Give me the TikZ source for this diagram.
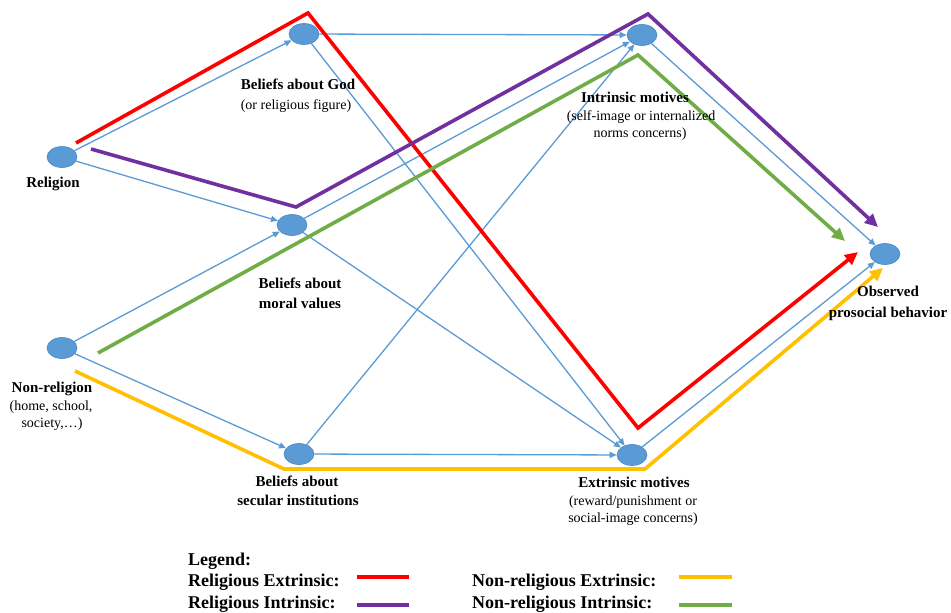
\documentclass[tikz,border=0pt]{standalone}
\usepackage{fontspec}
\setmainfont{Liberation Serif}
\usetikzlibrary{shapes.geometric,arrows.meta}
\definecolor{nodeblue}{HTML}{5B9BD5}
\definecolor{nodeedge}{HTML}{4A86C0}
\definecolor{linkblue}{HTML}{5B9BD5}
\definecolor{relred}{HTML}{FF0000}
\definecolor{relpurple}{HTML}{7030A0}
\definecolor{nrgreen}{HTML}{70AD47}
\definecolor{nryellow}{HTML}{FFC000}
\tikzset{
  dot/.style={ellipse, fill=nodeblue, draw=nodeedge, line width=0.6pt,
    minimum width=30pt, minimum height=21pt, inner sep=0pt},
  link/.style={draw=linkblue, line width=1.3pt, -{Triangle[length=7pt,width=6pt]}},
  route/.style={line width=3.6pt, line join=miter, -{Triangle[length=13pt,width=12pt]}},
  hd/.style={font=\fontsize{15}{17}\selectfont\bfseries, inner sep=0pt, anchor=base},
  sub/.style={font=\fontsize{14}{16}\selectfont, inner sep=0pt, anchor=base},
  leg/.style={font=\fontsize{18}{20}\selectfont\bfseries, inner sep=0pt, anchor=base west},
  legline/.style={line width=4pt},
}
\begin{document}
\begin{tikzpicture}[x=1pt,y=-1pt]
\path[use as bounding box, fill=white] (0,0) rectangle (951,613);

% nodes
\node[dot] (rel) at (62,157) {};
\node[dot] (god) at (304,34) {};
\node[dot] (mor) at (292,225) {};
\node[dot] (non) at (62,348) {};
\node[dot] (sec) at (299,454) {};
\node[dot] (int) at (642,35) {};
\node[dot] (ext) at (632,455) {};
\node[dot] (obs) at (885,254) {};

% blue links
\draw[link] (rel) -- (god);
\draw[link] (rel) -- (mor);
\draw[link] (god) -- (int);
\draw[link] (god) -- (ext);
\draw[link] (mor) -- (int);
\draw[link] (mor) -- (ext);
\draw[link] (non) -- (mor);
\draw[link] (non) -- (sec);
\draw[link] (sec) -- (int);
\draw[link] (sec) -- (ext);
\draw[link] (int) -- (obs);
\draw[link] (ext) -- (obs);

% route coordinates
\coordinate (r0) at (76,143);
\coordinate (r1) at (308,13);
\coordinate (r2) at (638,428);
\coordinate (r3) at (858,252);
\coordinate (p0) at (91,149);
\coordinate (p1) at (296,207);
\coordinate (p2) at (648,14);
\coordinate (p3) at (878,227);
\coordinate (g0) at (98,353);
\coordinate (g1) at (638,55);
\coordinate (g2) at (845,241);
\coordinate (y0) at (75,371);
\coordinate (y1) at (284,469);
\coordinate (y2) at (645,469);
\coordinate (y3) at (883,268);

\draw[route, relred] (r0) -- (r1) -- (r2) -- (r3);
\draw[route, relpurple] (p0) -- (p1) -- (p2) -- (p3);
\draw[route, nrgreen] (g0) -- (g1) -- (g2);
\draw[route, nryellow] (y0) -- (y1) -- (y2) -- (y3);

% labels
\node[hd] (relA) at (53,187) {Religion};
\node[hd] (godA) at (298,89) {Beliefs about God};
\node[sub] (godB) at (296,109) {(or religious figure)};
\node[hd] (intA) at (635,102) {Intrinsic motives};
\node[sub] (intB) at (641,120) {(self-image or internalized};
\node[sub] (intC) at (640,137) {norms concerns)};
\node[hd] (morA) at (300,288) {Beliefs about};
\node[hd] (morB) at (300,308) {moral values};
\node[hd] (nonA) at (52,392) {Non-religion};
\node[sub] (nonB) at (51,410) {(home, school,};
\node[sub] (nonC) at (52,427) {society,\dots)};
\node[hd] (secA) at (297,486) {Beliefs about};
\node[hd] (secB) at (298,505) {secular institutions};
\node[hd] (extA) at (634,487) {Extrinsic motives};
\node[sub] (extB) at (633,505) {(reward/punishment or};
\node[sub] (extC) at (633,522) {social-image concerns)};
\node[hd] (obsA) at (888,296) {Observed};
\node[hd] (obsB) at (888,317) {prosocial behavior};

% legend
\node[leg] (legT) at (188,565) {Legend:};
\node[leg] (legRE) at (188,586) {Religious Extrinsic:};
\node[leg] (legRI) at (188,608) {Religious Intrinsic:};
\node[leg] (legNE) at (472,586) {Non-religious Extrinsic:};
\node[leg] (legNI) at (472,608) {Non-religious Intrinsic:};
\coordinate (lre0) at (357,577); \coordinate (lre1) at (409,577);
\coordinate (lri0) at (357,605); \coordinate (lri1) at (409,605);
\coordinate (lne0) at (679,577); \coordinate (lne1) at (732,577);
\coordinate (lni0) at (679,605); \coordinate (lni1) at (732,605);
\draw[legline, relred] (lre0) -- (lre1);
\draw[legline, relpurple] (lri0) -- (lri1);
\draw[legline, nryellow] (lne0) -- (lne1);
\draw[legline, nrgreen] (lni0) -- (lni1);
\end{tikzpicture}
\end{document}
